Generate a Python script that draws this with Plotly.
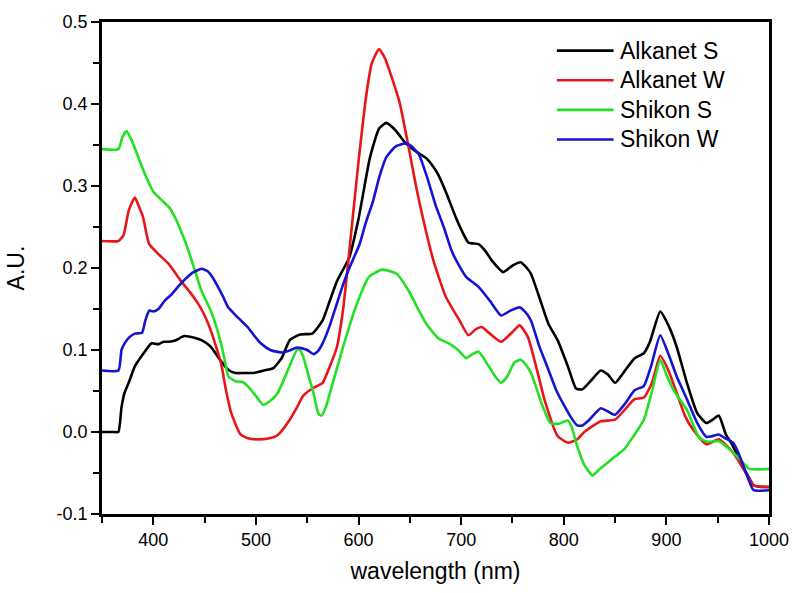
import plotly.graph_objects as go

# Absorbance spectra (arbitrary units) vs wavelength in nm
alkanet_s_x = [350, 362, 366, 369, 372, 376, 382, 390, 398, 405, 410, 415, 422, 430, 440, 447, 456, 465,
               473, 480, 490, 498, 508, 517, 525, 533, 543, 555, 565, 572, 579, 591, 600, 611, 620, 627,
               636, 646, 656, 666, 672, 678, 686, 695, 702, 707, 717, 724, 730, 741, 750, 758, 764, 768,
               776, 785, 794, 804, 812, 818, 826, 836, 843, 850, 858, 869, 878, 884, 894, 902, 910, 920,
               930, 939, 945, 951, 958, 964, 971, 978, 985, 992, 1000]
alkanet_s_y = [0.0, 0.0, 0.0, 0.03, 0.048, 0.06, 0.08, 0.095, 0.108, 0.107, 0.11, 0.11, 0.112, 0.117, 0.115,
               0.112, 0.104, 0.088, 0.076, 0.072, 0.072, 0.072, 0.075, 0.078, 0.09, 0.112, 0.119, 0.12,
               0.136, 0.16, 0.184, 0.213, 0.26, 0.334, 0.37, 0.377, 0.368, 0.352, 0.342, 0.334, 0.325,
               0.313, 0.29, 0.261, 0.242, 0.231, 0.229, 0.22, 0.209, 0.195, 0.203, 0.207, 0.2, 0.193,
               0.165, 0.132, 0.112, 0.08, 0.053, 0.052, 0.062, 0.075, 0.07, 0.06, 0.072, 0.09, 0.096,
               0.11, 0.147, 0.13, 0.104, 0.06, 0.023, 0.011, 0.015, 0.02, -0.003, -0.015, -0.033, -0.05,
               -0.065, -0.067, -0.067]

alkanet_w_x = [350, 366, 371, 376, 382, 386, 390, 396, 405, 415, 427, 436, 444, 450, 456, 466, 471, 476,
               485, 493, 502, 512, 521, 533, 540, 546, 555, 565, 572, 579, 585, 589, 600, 608, 613, 620,
               626, 633, 640, 649, 656, 662, 673, 685, 698, 707, 714, 720, 728, 739, 750, 757, 765, 773,
               782, 794, 804, 813, 820, 836, 850, 860, 869, 878, 886, 894, 902, 910, 918, 926, 939, 951,
               965, 975, 985, 1000]
alkanet_w_y = [0.233, 0.233, 0.24, 0.27, 0.286, 0.275, 0.262, 0.229, 0.217, 0.205, 0.184, 0.17, 0.156,
               0.142, 0.124, 0.084, 0.05, 0.023, -0.003, -0.008, -0.009, -0.008, -0.004, 0.015, 0.03,
               0.044, 0.053, 0.06, 0.08, 0.104, 0.15, 0.196, 0.33, 0.415, 0.45, 0.467, 0.455, 0.43,
               0.402, 0.346, 0.3, 0.265, 0.209, 0.165, 0.137, 0.118, 0.125, 0.128, 0.12, 0.11, 0.122,
               0.13, 0.116, 0.08, 0.036, -0.005, -0.013, -0.009, 0.0, 0.013, 0.015, 0.028, 0.04, 0.042,
               0.06, 0.093, 0.075, 0.048, 0.02, 0.003, -0.015, -0.009, -0.025, -0.045, -0.065, -0.067]

shikon_s_x = [350, 366, 370, 374, 378, 382, 392, 400, 408, 416, 421, 427, 434, 441, 447, 456, 461, 466,
              470, 473, 480, 487, 492, 500, 507, 514, 521, 530, 540, 543, 546, 551, 556, 561, 564, 568,
              572, 585, 598, 610, 623, 637, 649, 658, 666, 678, 688, 697, 705, 711, 717, 722, 727, 733,
              739, 745, 752, 758, 763, 768, 773, 778, 787, 795, 804, 808, 813, 820, 828, 835, 842, 850,
              859, 868, 878, 886, 894, 900, 907, 920, 932, 940, 951, 965, 973, 981, 1000]
shikon_s_y = [0.345, 0.345, 0.36, 0.367, 0.358, 0.346, 0.314, 0.293, 0.283, 0.273, 0.262, 0.245, 0.222,
              0.195, 0.172, 0.148, 0.13, 0.108, 0.085, 0.068, 0.062, 0.061, 0.056, 0.044, 0.033, 0.038,
              0.047, 0.072, 0.1, 0.1, 0.092, 0.07, 0.048, 0.022, 0.02, 0.03, 0.047, 0.104, 0.155, 0.189,
              0.198, 0.193, 0.172, 0.15, 0.132, 0.114, 0.108, 0.1, 0.09, 0.095, 0.098, 0.09, 0.08, 0.068,
              0.06, 0.068, 0.085, 0.088, 0.082, 0.072, 0.055, 0.036, 0.011, 0.01, 0.014, 0.005, -0.017,
              -0.04, -0.053, -0.045, -0.038, -0.03, -0.021, -0.005, 0.015, 0.05, 0.088, 0.07, 0.051,
              0.027, -0.007, -0.012, -0.011, -0.025, -0.035, -0.045, -0.045]

shikon_w_x = [350, 366, 369, 372, 377, 382, 389, 392, 396, 400, 405, 411, 418, 424, 430, 438, 447, 453,
              458, 463, 468, 473, 482, 492, 498, 505, 514, 520, 527, 534, 540, 545, 550, 556, 560, 565,
              572, 579, 585, 591, 601, 607, 614, 620, 627, 636, 646, 652, 659, 667, 675, 683, 691, 698,
              705, 711, 717, 728, 739, 748, 757, 762, 768, 776, 785, 793, 801, 808, 813, 818, 825, 836,
              843, 850, 860, 869, 878, 885, 894, 902, 910, 920, 930, 939, 945, 951, 958, 965, 970, 975,
              980, 985, 1000]
shikon_w_y = [0.075, 0.075, 0.1, 0.108, 0.116, 0.12, 0.121, 0.135, 0.148, 0.147, 0.15, 0.16, 0.168, 0.177,
              0.185, 0.194, 0.199, 0.196, 0.188, 0.177, 0.165, 0.152, 0.14, 0.128, 0.118, 0.108, 0.1,
              0.098, 0.097, 0.1, 0.103, 0.102, 0.1, 0.095, 0.098, 0.108, 0.13, 0.157, 0.18, 0.2, 0.229,
              0.255, 0.281, 0.31, 0.335, 0.348, 0.352, 0.348, 0.338, 0.31, 0.277, 0.25, 0.22, 0.203,
              0.189, 0.183, 0.177, 0.16, 0.142, 0.148, 0.152, 0.147, 0.136, 0.105, 0.076, 0.05, 0.031,
              0.016, 0.008, 0.008, 0.015, 0.029, 0.025, 0.021, 0.035, 0.051, 0.056, 0.08, 0.118, 0.095,
              0.068, 0.04, 0.011, -0.006, -0.005, -0.003, -0.008, -0.013, -0.025, -0.041, -0.058, -0.071,
              -0.071]

series_names = ["Alkanet S", "Alkanet W", "Shikon S", "Shikon W"]
series_colors = ["#000000", "#e8161b", "#22e022", "#1414d2"]
series_x = [alkanet_s_x, alkanet_w_x, shikon_s_x, shikon_w_x]
series_y = [alkanet_s_y, alkanet_w_y, shikon_s_y, shikon_w_y]

x_ticks = [400, 500, 600, 700, 800, 900, 1000]
y_ticks = [-0.1, 0.0, 0.1, 0.2, 0.3, 0.4, 0.5]
y_tick_text = ["-0.1", "0.0", "0.1", "0.2", "0.3", "0.4", "0.5"]

FONT = "Liberation Sans, Arial, sans-serif"

fig = go.Figure()
for name, color, xs, ys in zip(series_names, series_colors, series_x, series_y):
    fig.add_trace(go.Scatter(
        x=xs, y=ys, name=name, mode="lines",
        line=dict(color=color, width=2.6, shape="spline", smoothing=0.5),
        showlegend=False,
    ))

# Legend drawn as line samples + labels inside the plot, top right
legend_top = 0.9418
legend_step = 0.0602
for i, (name, color) in enumerate(zip(series_names, series_colors)):
    yy = legend_top - i * legend_step
    fig.add_shape(type="line", xref="paper", yref="paper",
                  x0=0.682, x1=0.767, y0=yy, y1=yy,
                  line=dict(color=color, width=2.6))
    fig.add_annotation(xref="paper", yref="paper", x=0.774, y=yy,
                       text=name, showarrow=False, xanchor="left", yanchor="middle",
                       font=dict(family=FONT, size=23, color="#000000"))

fig.update_layout(
    width=801, height=593,
    margin=dict(l=102, r=29, t=16, b=79),
    paper_bgcolor="white", plot_bgcolor="white",
    font=dict(family=FONT, color="#000000"),
    xaxis=dict(
        range=[350, 1000], tickvals=x_ticks, ticks="outside", ticklen=8, tickwidth=2,
        tickcolor="black", showline=True, linewidth=2.5, linecolor="black", mirror=True,
        showgrid=False, zeroline=False, tickfont=dict(size=18, family=FONT),
        minor=dict(tickvals=[350, 450, 550, 650, 750, 850, 950], ticks="outside",
                   ticklen=6, tickwidth=2, tickcolor="black"),
        title=dict(text="wavelength (nm)", font=dict(size=23, family=FONT), standoff=14),
    ),
    yaxis=dict(
        range=[-0.1, 0.5], tickvals=y_ticks, ticktext=y_tick_text, ticks="outside", ticklen=8,
        tickwidth=2, tickcolor="black", showline=True, linewidth=2.5, linecolor="black",
        mirror=True, showgrid=False, zeroline=False, tickfont=dict(size=18, family=FONT),
        minor=dict(tickvals=[-0.05, 0.05, 0.15, 0.25, 0.35, 0.45], ticks="outside",
                   ticklen=6, tickwidth=2, tickcolor="black"),
        title=dict(text="A.U.", font=dict(size=23, family=FONT), standoff=26),
    ),
)

fig.write_html("out.html")
